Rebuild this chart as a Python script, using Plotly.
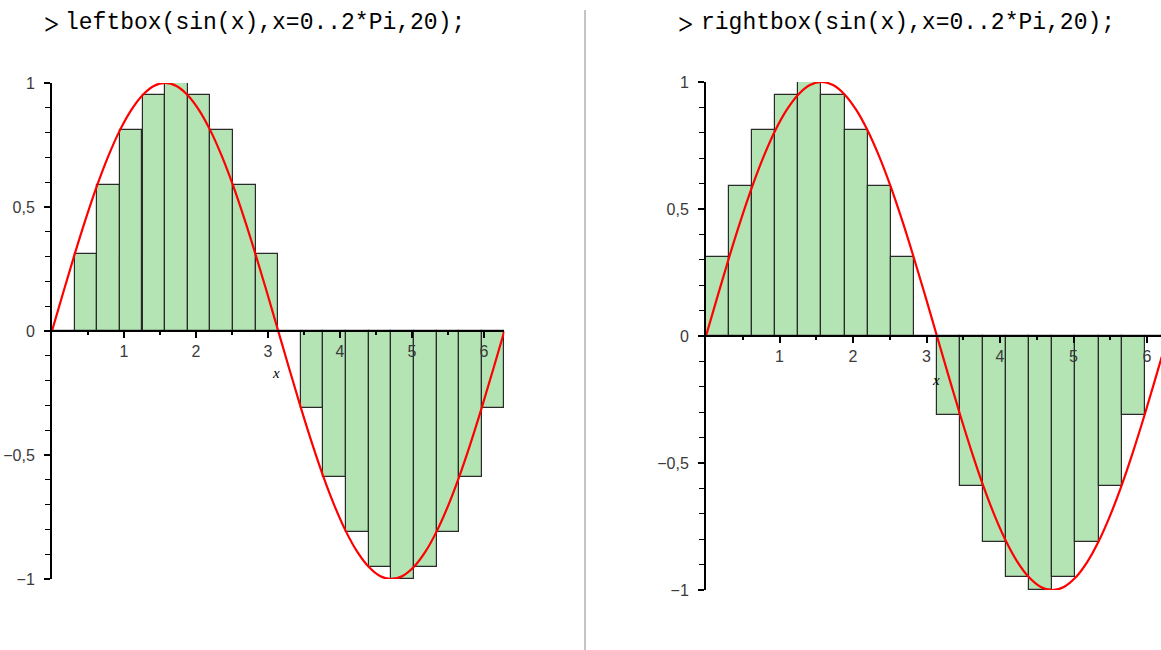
import plotly.graph_objects as go

# ---- data ----
box_left_edges = [0.000, 0.314, 0.628, 0.942, 1.257, 1.571, 1.885, 2.199, 2.513, 2.827,
                  3.142, 3.456, 3.770, 4.084, 4.398, 4.712, 5.027, 5.341, 5.655, 5.969]
box_width = 0.3142
leftbox_heights = [0.00, 0.31, 0.59, 0.81, 0.95, 1.00, 0.95, 0.81, 0.59, 0.31,
                   0.00, -0.31, -0.59, -0.81, -0.95, -1.00, -0.95, -0.81, -0.59, -0.31]
rightbox_heights = [0.31, 0.59, 0.81, 0.95, 1.00, 0.95, 0.81, 0.59, 0.31, 0.00,
                    -0.31, -0.59, -0.81, -0.95, -1.00, -0.95, -0.81, -0.59, -0.31, 0.00]
curve_x = [0.000, 0.157, 0.314, 0.471, 0.628, 0.785, 0.942, 1.100, 1.257, 1.414,
           1.571, 1.728, 1.885, 2.042, 2.199, 2.356, 2.513, 2.670, 2.827, 2.985,
           3.142, 3.299, 3.456, 3.613, 3.770, 3.927, 4.084, 4.241, 4.398, 4.555,
           4.712, 4.869, 5.027, 5.184, 5.341, 5.498, 5.655, 5.812, 5.969, 6.126, 6.283]
curve_y = [0.000, 0.156, 0.309, 0.454, 0.588, 0.707, 0.809, 0.891, 0.951, 0.988,
           1.000, 0.988, 0.951, 0.891, 0.809, 0.707, 0.588, 0.454, 0.309, 0.156,
           0.000, -0.156, -0.309, -0.454, -0.588, -0.707, -0.809, -0.891, -0.951, -0.988,
           -1.000, -0.988, -0.951, -0.891, -0.809, -0.707, -0.588, -0.454, -0.309, -0.156, 0.000]
x_tick_vals = [1, 2, 3, 4, 5, 6]
x_minor_vals = [0.5, 1.5, 2.5, 3.5, 4.5, 5.5]
y_tick_vals = [-1, -0.5, 0, 0.5, 1]
titles = ["leftbox(sin(x),x=0..2*Pi,20);", "rightbox(sin(x),x=0..2*Pi,20);"]

W, H = 1161, 650
FILL = "#b4e4b4"
EDGE = "#2a2a2a"

fig = go.Figure()
for heights, xa, ya in [(leftbox_heights, "x", "y"), (rightbox_heights, "x2", "y2")]:
    fig.add_trace(go.Bar(x=box_left_edges, y=heights, width=box_width, offset=0,
                         marker=dict(color=FILL, line=dict(color=EDGE, width=1.2)),
                         xaxis=xa, yaxis=ya, hoverinfo="skip"))
    fig.add_trace(go.Scatter(x=curve_x, y=curve_y, mode="lines", line_shape="spline",
                             line=dict(color="#ff0000", width=2.2),
                             xaxis=xa, yaxis=ya, hoverinfo="skip"))

tickfont = dict(family="Liberation Sans", size=16, color="#3a3a3a")

def xaxis_cfg(dom, rng, ypix):
    return dict(domain=dom, range=rng, anchor="free", position=1 - ypix / H,
                showline=True, linecolor="black", linewidth=2, showgrid=False, zeroline=False,
                tickmode="array", tickvals=x_tick_vals, ticks="outside", ticklen=6,
                tickwidth=1.5, tickcolor="black", tickfont=tickfont, ticklabelstandoff=0,
                minor=dict(tickmode="array", tickvals=x_minor_vals, ticks="outside",
                           ticklen=3, tickwidth=1.5, tickcolor="black"),
                layer="above traces", fixedrange=True, automargin=False)

def yaxis_cfg(anchor, top, bot):
    return dict(domain=[1 - bot / H, 1 - top / H], range=[-1, 1], anchor=anchor,
                showline=True, linecolor="black", linewidth=2, showgrid=False, zeroline=False,
                tickmode="array", tickvals=y_tick_vals, ticks="outside", ticklen=6,
                tickwidth=1.5, tickcolor="black", tickfont=tickfont, ticklabelstandoff=6,
                minor=dict(tickmode="linear", tick0=0, dtick=0.1, ticks="outside",
                           ticklen=5, tickwidth=1.2, tickcolor="black"),
                layer="above traces", fixedrange=True, automargin=False)

left_x0, left_scale = 52, 72.0
right_x0, right_scale = 706, 73.5
fig.update_layout(
    width=W, height=H, autosize=False,
    margin=dict(l=0, r=0, t=0, b=0, pad=0, autoexpand=False),
    paper_bgcolor="white", plot_bgcolor="white", showlegend=False, bargap=0,
    separators=", ",
    xaxis=xaxis_cfg([left_x0 / W, (left_x0 + left_scale * 6.2832) / W], [0, 6.2832], 331),
    yaxis=yaxis_cfg("x", 83, 579),
    xaxis2=xaxis_cfg([right_x0 / W, 1], [0, (W - right_x0) / right_scale], 336),
    yaxis2=yaxis_cfg("x2", 82, 590),
)

# axis label "x"
fig.add_annotation(x=3.11, y=-0.17, xref="x", yref="y", text="<i>x</i>", showarrow=False,
                   font=dict(family="Liberation Serif", size=15, color="black"))
fig.add_annotation(x=3.125, y=-0.173, xref="x2", yref="y2", text="<i>x</i>", showarrow=False,
                   font=dict(family="Liberation Serif", size=15, color="black"))

# command titles
for gt_x, txt_x, txt in [(51, 63, titles[0]), (685, 699, titles[1])]:
    fig.add_annotation(x=gt_x / W, y=1 - 23 / H, xref="paper", yref="paper", text="&gt;",
                       showarrow=False, xanchor="center", yanchor="middle",
                       font=dict(family="Inter", size=28, weight=300, color="black"))
    fig.add_annotation(x=txt_x / W, y=1 - 23 / H, xref="paper", yref="paper", text=txt,
                       showarrow=False, xanchor="left", yanchor="middle",
                       font=dict(family="Liberation Mono", size=23, color="black"))

# divider
fig.add_shape(type="line", xref="paper", yref="paper", x0=585 / W, x1=585 / W,
              y0=0, y1=1 - 10 / H, line=dict(color="#8a8a8a", width=1))

fig.write_html(
    "out.html",
    config={"displayModeBar": False, "responsive": False},
    post_script=("document.documentElement.style.margin='0';"
                 "document.documentElement.style.overflow='hidden';"
                 "document.body.style.margin='0';"
                 "document.body.style.overflow='hidden';"),
)
